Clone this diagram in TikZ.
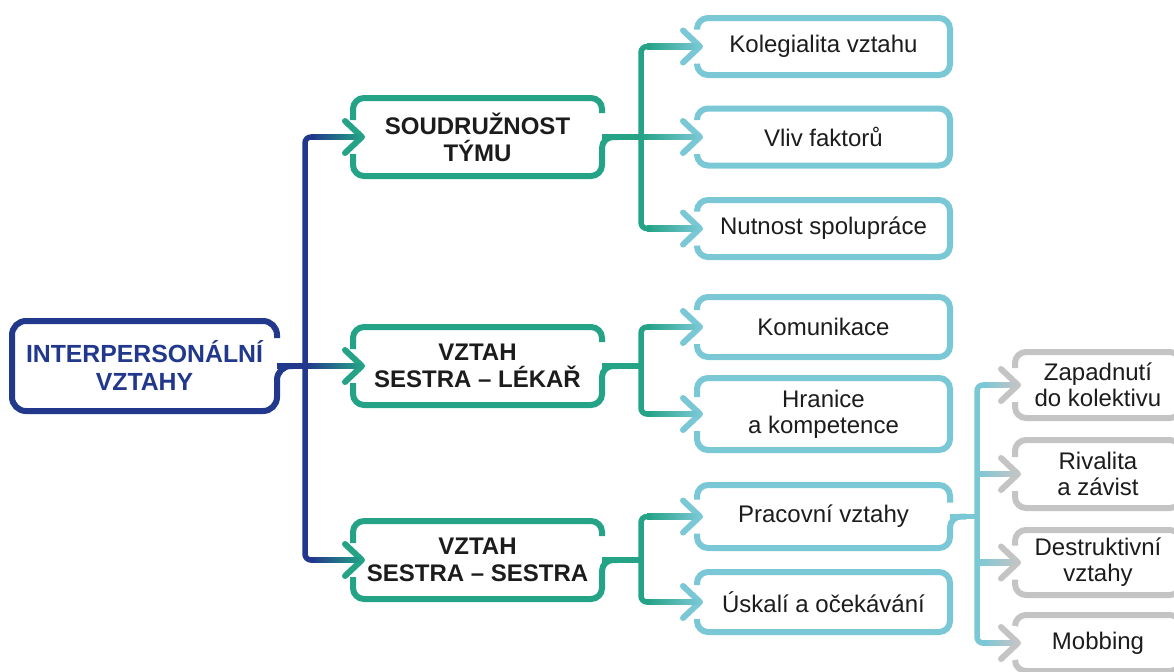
\documentclass[tikz,border=0pt]{standalone}
\usepackage{fontspec}
\setmainfont{Liberation Sans}
\usetikzlibrary{calc}

\definecolor{navyc}{RGB}{33,56,140}
\definecolor{tealc}{RGB}{36,163,135}
\definecolor{lblue}{RGB}{122,200,214}
\definecolor{greyc}{RGB}{196,196,196}
\definecolor{inkc}{RGB}{28,28,28}

\tikzset{
  box/.style={inner sep=0pt, outer sep=0pt, align=center, text=inkc,
    font=\fontsize{12}{13}\selectfont},
  rootbox/.style={box, text=navyc, font=\bfseries\fontsize{12.4}{14}\selectfont,
    minimum width=132.5pt, minimum height=45pt},
  midbox/.style={box, font=\bfseries\fontsize{12}{13.5}\selectfont,
    minimum width=124.5pt, minimum height=39pt},
  leafbox/.style={box, minimum width=126.5pt},
  greybox/.style={box, minimum width=83pt},
  frame/.style={line width=3pt, rounded corners=5.5pt},
  wire/.style={line width=2.75pt},
  chev/.style={line width=3pt, line cap=round, line join=round},
}

% closed frame with an opening on the left for the incoming arrow
\newcommand\leafframe[2]{%
  \draw[frame,#2] ([yshift=8.5pt]#1.west) |- (#1.north east) |- (#1.south west)
    -- ([yshift=-8.5pt]#1.west);}
% frame with an opening on the left and an outgoing line on the right
\newcommand\forkframe[3]{%
  \draw[frame,#2] ([yshift=8.5pt]#1.west) |- (#1.north east) -- ([yshift=#3]#1.east);
  \draw[frame,#2] ([xshift=8pt]#1.east) -- (#1.east) |- (#1.south west)
    -- ([yshift=-8.5pt]#1.west);}
% arrow head just inside the left opening of a frame
\newcommand\chevron[3]{%
  \coordinate (#1-tip) at ([xshift=#3]#1.west);
  \draw[chev,#2] ([xshift=-8.5pt,yshift=8pt]#1-tip) -- (#1-tip)
    -- ([xshift=-8.5pt,yshift=-8pt]#1-tip);}
% horizontal branch whose colour runs from the parent to the child
\newcommand\fadewire[5]{%
  \shade[left color=#4,right color=#5] ([xshift=#2,yshift=1.375pt]#1)
    rectangle ([yshift=-1.375pt]#3);}

\begin{document}
\begin{tikzpicture}[x=0.5pt,y=-0.5pt]
\useasboundingbox[fill=white] (0,0) rectangle (1174,671);

% ---------- boxes ----------
\node[rootbox] (root) at (144.5,366) {INTERPERSONÁLNÍ\\VZTAHY};

\node[midbox] (s1) at (477.5,137) {SOUDRUŽNOST\\TÝMU};
\node[midbox] (s2) at (477.5,366) {VZTAH\\SESTRA – LÉKAŘ};
\node[midbox] (s3) at (477.5,560) {VZTAH\\SESTRA – SESTRA};

\node[leafbox, minimum height=28.5pt] (k1) at (823.5,46.5) {Kolegialita vztahu};
\node[leafbox, minimum height=28.5pt] (k2) at (823.5,137) {Vliv faktorů};
\node[leafbox, minimum height=28.5pt] (k3) at (823.5,228.5) {Nutnost spolupráce};
\node[leafbox, minimum height=30pt] (k4) at (823.5,327) {Komunikace};
\node[leafbox, minimum height=36pt] (k5) at (823.5,414) {Hranice\\a kompetence};
\node[leafbox, minimum height=31.5pt] (k6) at (823.5,516.5) {Pracovní vztahy};
\node[leafbox, minimum height=30pt] (k7) at (823.5,602) {Úskalí a očekávání};

\node[greybox, minimum height=33pt] (g1) at (1098,385) {Zapadnutí\\do kolektivu};
\node[greybox, minimum height=34pt] (g2) at (1098,474) {Rivalita\\a závist};
\node[greybox, minimum height=32.5pt] (g3) at (1098,562.5) {Destruktivní\\vztahy};
\node[greybox, minimum height=28pt] (g4) at (1098,643) {Mobbing};

% ---------- frames ----------
\draw[frame,navyc,rounded corners=7pt] ([yshift=14pt]root.east) |- (root.north west)
  |- (root.south east) -- (root.east) -- ([xshift=8pt]root.east);

\foreach \n in {s1,s2,s3} {\forkframe{\n}{tealc}{12pt}}
\foreach \n in {k1,k2,k3,k4,k5,k7} {\leafframe{\n}{lblue}}
\forkframe{k6}{lblue}{7pt}
\foreach \n in {g1,g2,g3,g4} {\leafframe{\n}{greyc}}

% ---------- arrow heads ----------
\foreach \n in {s1,s2,s3} {\chevron{\n}{tealc}{4.5pt}}
\foreach \n in {k1,k2,k3,k4,k5,k6,k7} {\chevron{\n}{lblue}{1.5pt}}
\foreach \n in {g1,g2,g3,g4} {\chevron{\n}{greyc}{1.5pt}}

% ---------- trunk: root to the three topics ----------
\coordinate (tx) at (305,0);
\coordinate (t1) at (tx |- s1.west);
\coordinate (t2) at (tx |- root.east);
\coordinate (t3) at (tx |- s3.west);
\fadewire{t1}{3pt}{s1-tip}{navyc}{tealc}
\fadewire{t2}{0pt}{s2-tip}{navyc}{tealc}
\fadewire{t3}{3pt}{s3-tip}{navyc}{tealc}
\draw[wire,navyc,rounded corners=3pt] ([xshift=5pt]t1) -- (t1) -- (t3) -- ([xshift=5pt]t3);
\draw[wire,navyc] (root.east) -- (t2);

% ---------- SOUDRUŽNOST TÝMU ----------
\coordinate (ax) at (641,0);
\coordinate (a1) at (ax |- k1.west);
\coordinate (a2) at (ax |- k2.west);
\coordinate (a3) at (ax |- k3.west);
\coordinate (a0) at (ax |- s1.east);
\fadewire{a1}{3pt}{k1-tip}{tealc}{lblue}
\fadewire{a2}{0pt}{k2-tip}{tealc}{lblue}
\fadewire{a3}{3pt}{k3-tip}{tealc}{lblue}
\draw[wire,tealc,rounded corners=3pt] ([xshift=5pt]a1) -- (a1) -- (a3) -- ([xshift=5pt]a3);
\draw[wire,tealc] (s1.east) -- (a0);

% ---------- VZTAH SESTRA – LÉKAŘ ----------
\coordinate (bx) at (641,0);
\coordinate (b1) at (bx |- k4.west);
\coordinate (b2) at (bx |- k5.west);
\coordinate (b0) at (bx |- s2.east);
\fadewire{b1}{3pt}{k4-tip}{tealc}{lblue}
\fadewire{b2}{3pt}{k5-tip}{tealc}{lblue}
\draw[wire,tealc,rounded corners=3pt] ([xshift=5pt]b1) -- (b1) -- (b2) -- ([xshift=5pt]b2);
\draw[wire,tealc] (s2.east) -- (b0);

% ---------- VZTAH SESTRA – SESTRA ----------
\coordinate (cx) at (641,0);
\coordinate (c1) at (cx |- k6.west);
\coordinate (c2) at (cx |- k7.west);
\coordinate (c0) at (cx |- s3.east);
\fadewire{c1}{3pt}{k6-tip}{tealc}{lblue}
\fadewire{c2}{3pt}{k7-tip}{tealc}{lblue}
\draw[wire,tealc,rounded corners=3pt] ([xshift=5pt]c1) -- (c1) -- (c2) -- ([xshift=5pt]c2);
\draw[wire,tealc] (s3.east) -- (c0);

% ---------- Pracovní vztahy ----------
\coordinate (dx) at (977,0);
\coordinate (d1) at (dx |- g1.west);
\coordinate (d2) at (dx |- g2.west);
\coordinate (d3) at (dx |- g3.west);
\coordinate (d4) at (dx |- g4.west);
\coordinate (d0) at (dx |- k6.east);
\fadewire{d1}{3pt}{g1-tip}{lblue}{greyc}
\fadewire{d2}{0pt}{g2-tip}{lblue}{greyc}
\fadewire{d3}{0pt}{g3-tip}{lblue}{greyc}
\fadewire{d4}{3pt}{g4-tip}{lblue}{greyc}
\draw[wire,lblue,rounded corners=3pt] ([xshift=5pt]d1) -- (d1) -- (d4) -- ([xshift=5pt]d4);
\draw[wire,lblue] (k6.east) -- (d0);
\end{tikzpicture}
\end{document}
